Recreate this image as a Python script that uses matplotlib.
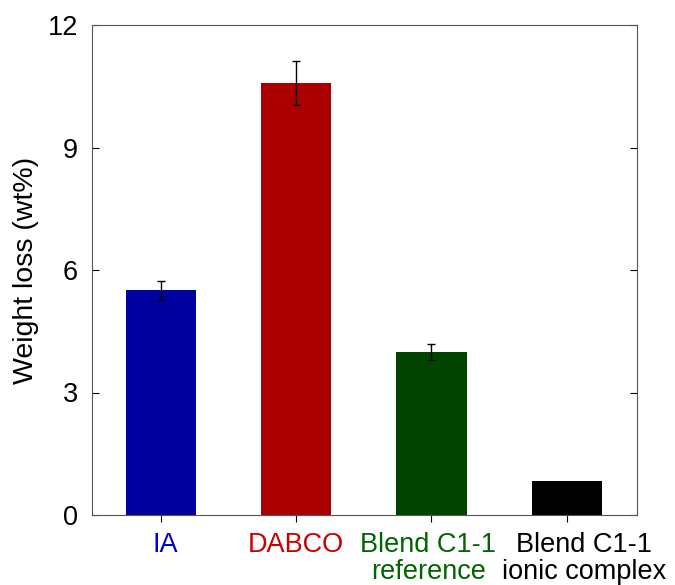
import numpy as np
import matplotlib.pyplot as plt
import matplotlib.transforms as mtransforms

plt.rcParams['font.family'] = ['Liberation Sans', 'DejaVu Sans']

labels = ["IA", "DABCO", "Blend C1-1\nreference", "Blend C1-1\nionic complex"]
values = [5.5, 10.58, 4.0, 0.83]
errors = [0.23, 0.54, 0.2, np.nan]
bar_colors = ["#0000a0", "#aa0000", "#004400", "#000000"]
label_colors = ["#0000c8", "#cc0000", "#006400", "#000000"]
label_shift_px = [4, 0, -3, 17]

fig = plt.figure(figsize=(6.75, 5.85), dpi=100)
ax = fig.add_axes([92 / 675, 70 / 585, 545 / 675, 490 / 585])

x = np.arange(len(values))
ax.bar(x, values, width=0.52, color=bar_colors)
ax.errorbar(x, values, yerr=errors, fmt="none", ecolor="black",
            elinewidth=1, capsize=3, capthick=1)

ax.set_xlim(-0.51, 3.52)
ax.set_ylim(0, 12)
ax.set_yticks([0, 3, 6, 9, 12])
ax.set_xticks(x)
ax.set_xticklabels([])
# category labels are nudged sideways like in the original figure
for xi, lab, c, dx in zip(x, labels, label_colors, label_shift_px):
    tr = ax.get_xaxis_transform() + mtransforms.ScaledTranslation(dx / 100, -17 / 100, fig.dpi_scale_trans)
    ax.text(xi, 0, lab, transform=tr, ha="center", va="top", color=c,
            fontsize=19.5, linespacing=1.03, clip_on=False)
ax.tick_params(axis='y', direction='in', right=True, labelsize=19.5, length=5, pad=10)
ax.tick_params(axis='x', direction='out', length=5)
ax.set_ylabel("Weight loss (wt%)", fontsize=20.5, labelpad=6)
for s in ax.spines.values():
    s.set_color("#555555")
    s.set_linewidth(0.8)

fig.savefig("out.png", dpi=100)
